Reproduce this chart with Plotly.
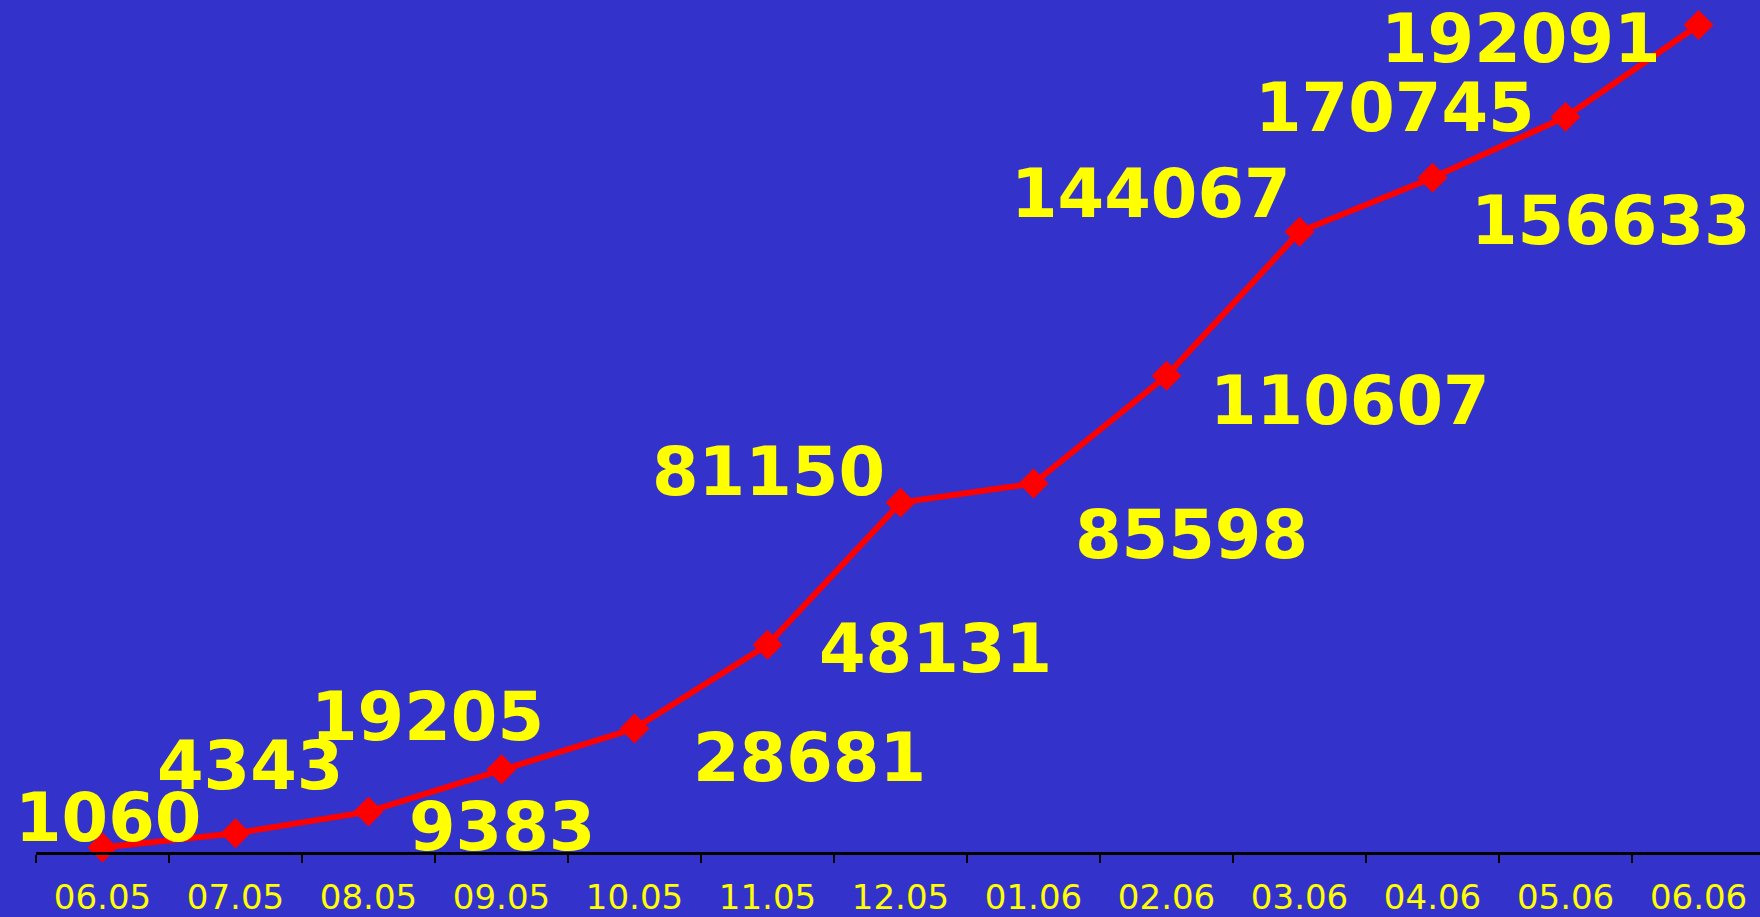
import plotly.graph_objects as go

months = ["06.05", "07.05", "08.05", "09.05", "10.05", "11.05", "12.05",
          "01.06", "02.06", "03.06", "04.06", "05.06", "06.06"]
values = [1060, 4343, 9383, 19205, 28681, 48131, 81150,
          85598, 110607, 144067, 156633, 170745, 192091]

# label placement offsets in pixels (dx right, dy up) relative to each point
label_dx = [5, 14, 133, -74, 175, 168, -132, 158, 183, -149, 178, -171, -178]
label_dy = [29, 67, -15, 52, -29, -4, 31, -52, -25, 38, -43, 9, -14]

BG = "#3333CC"
YELLOW = "#FFFF00"
RED = "#FF0000"

fig = go.Figure()
fig.add_trace(go.Scatter(
    x=months, y=values, mode="lines+markers",
    line=dict(color=RED, width=6),
    marker=dict(symbol="diamond", size=23, color=RED),
    cliponaxis=False, hoverinfo="skip",
))

for i, (v, dx, dy) in enumerate(zip(values, label_dx, label_dy)):
    fig.add_annotation(
        x=i, y=v, text=str(v), showarrow=False,
        xshift=dx, yshift=dy,
        font=dict(family="DejaVu Sans", size=67, color=YELLOW, weight="bold"),
    )

fig.update_layout(
    width=1760, height=917,
    margin=dict(l=36, r=0, t=25, b=59),
    paper_bgcolor=BG, plot_bgcolor=BG,
    showlegend=False,
    xaxis=dict(
        type="category", range=[-0.5, 12.462],
        showgrid=False, zeroline=False,
        showline=True, linecolor="black", linewidth=3,
        ticks="outside", tickson="boundaries", ticklen=8,
        tickwidth=2, tickcolor="black",
        tickfont=dict(family="DejaVu Sans", size=34, color=YELLOW),
        ticklabelstandoff=13,
        fixedrange=True,
    ),
    yaxis=dict(
        range=[0, max(values)], visible=False, showgrid=False,
        zeroline=False, fixedrange=True,
    ),
)

fig.write_html(
    "out.html",
    config={"displayModeBar": False},
    post_script="document.body.style.margin='0';document.body.style.overflow='hidden';",
)
